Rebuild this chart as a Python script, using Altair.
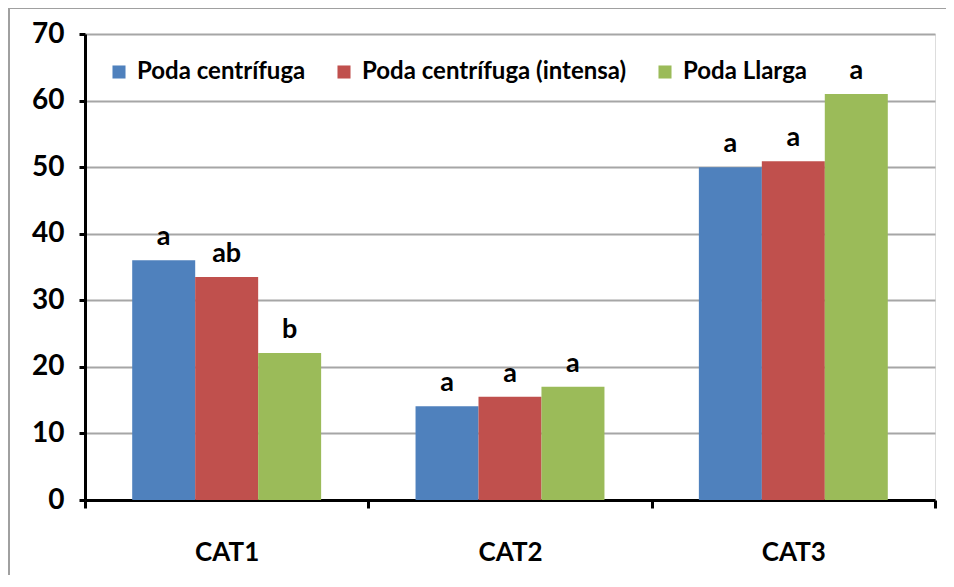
import altair as alt
import pandas as pd

categories = ["CAT1", "CAT2", "CAT3"]
series = ["Poda centrífuga", "Poda centrífuga (intensa)", "Poda Llarga"]
values = {
    "Poda centrífuga": [36.0, 14.1, 50.0],
    "Poda centrífuga (intensa)": [33.5, 15.5, 50.9],
    "Poda Llarga": [22.1, 17.0, 61.0],
}
letters = {
    "Poda centrífuga": ["a", "a", "a"],
    "Poda centrífuga (intensa)": ["ab", "a", "a"],
    "Poda Llarga": ["b", "a", "a"],
}
colors = ["#4F81BD", "#C0504D", "#9BBB59"]
y_ticks = [0, 10, 20, 30, 40, 50, 60, 70]

rows = []
for s in series:
    for i, c in enumerate(categories):
        rows.append({"cat": c, "serie": s, "value": values[s][i], "letter": letters[s][i]})
df = pd.DataFrame(rows)

FONT = "Lato"

x_enc = alt.X(
    "cat:N",
    sort=categories,
    title=None,
    scale=alt.Scale(paddingInner=0, paddingOuter=0),
    axis=alt.Axis(
        labelAngle=0, labelFont=FONT, labelFontSize=26, labelFontWeight="bold",
        labelColor="black", labelPadding=31, tickBand="extent", tickSize=8,
        tickWidth=3, tickColor="black", domainColor="black", domainWidth=3,
        grid=False,
    ),
)
xoff = alt.XOffset("serie:N", sort=series,
                   scale=alt.Scale(paddingInner=0, paddingOuter=0.75))
y_enc = alt.Y(
    "value:Q",
    title=None,
    scale=alt.Scale(domain=[0, 70], nice=False),
    axis=alt.Axis(
        values=y_ticks, labelFont=FONT, labelFontSize=28, labelFontWeight="bold",
        labelColor="black", labelPadding=15, tickSize=6, tickWidth=3,
        tickColor="black", domainColor="black", domainWidth=3,
        gridColor="#a6a6a6", gridWidth=2,
    ),
)

base = alt.Chart(df)
bars = base.mark_bar(size=63).encode(
    x=x_enc,
    xOffset=xoff,
    y=y_enc,
    color=alt.Color(
        "serie:N", sort=series,
        scale=alt.Scale(domain=series, range=colors),
        legend=alt.Legend(
            title=None, orient="none", legendX=22, legendY=26, direction="horizontal",
            symbolType="square", symbolSize=170, symbolStrokeWidth=0,
            labelFont=FONT, labelFontSize=24, labelFontWeight="bold", labelColor="black",
            columnPadding=26, labelLimit=400, symbolOffset=0, labelOffset=6,
        ),
    ),
)
texts = base.mark_text(baseline="bottom", dy=-9, font=FONT, fontSize=27,
                       fontWeight="bold", color="black").encode(
    x=alt.X("cat:N", sort=categories),
    xOffset=alt.XOffset("serie:N", sort=series),
    y=alt.Y("value:Q"),
    text="letter:N",
)

frame_df = pd.DataFrame({"k": [0]})
frame_top = alt.Chart(frame_df).mark_rule(color="#a0a0a0", strokeWidth=2).encode(
    x=alt.value(-77), x2=alt.value(880), y=alt.value(-26)
)
frame_left = alt.Chart(frame_df).mark_rule(color="#a0a0a0", strokeWidth=2).encode(
    x=alt.value(-76), y=alt.value(-27), y2=alt.value(600)
)

chart = alt.layer(frame_top, frame_left, bars, texts).properties(
    width=850, height=466,
    autosize=alt.AutoSizeParams(type="none"),
    padding={"left": 77, "top": 26, "right": 11, "bottom": 75},
).configure_view(stroke=None).configure(background="white")

chart.save("out.html", embed_options={"renderer": "svg", "actions": False})
